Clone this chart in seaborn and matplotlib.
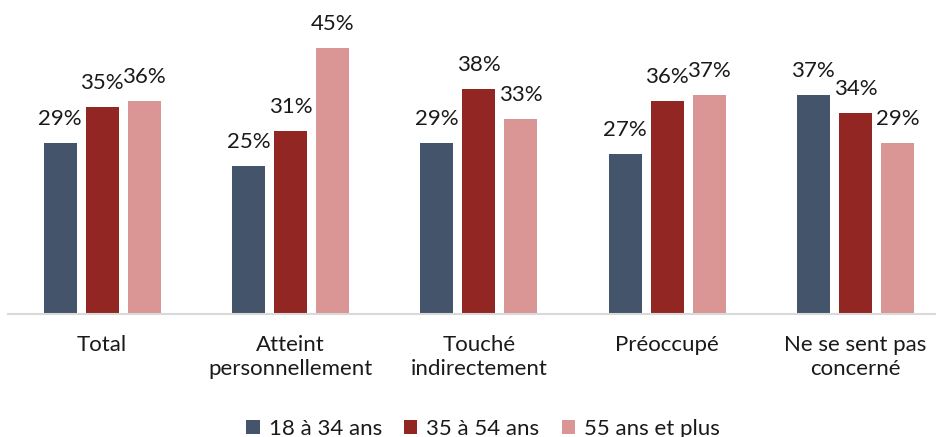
import pandas as pd
import matplotlib.pyplot as plt
import seaborn as sns

sns.set_style("white")
plt.rcParams['font.family'] = ['Lato', 'DejaVu Sans']

# data
categories = ["Total", "Atteint\npersonnellement", "Touché\nindirectement", "Préoccupé", "Ne se sent pas\nconcerné"]
age_groups = ["18 à 34 ans", "35 à 54 ans", "55 ans et plus"]
v_18_34 = [29, 25, 29, 27, 37]
v_35_54 = [35, 31, 38, 36, 34]
v_55_plus = [36, 45, 33, 37, 29]
colors = ["#44546A", "#922623", "#DA9694"]

rows = []
for grp, vals in zip(age_groups, [v_18_34, v_35_54, v_55_plus]):
    for cat, v in zip(categories, vals):
        rows.append({"cat": cat, "age": grp, "val": v})
df = pd.DataFrame(rows)

fig = plt.figure(figsize=(9.36, 4.37), dpi=100)
ax = fig.add_axes([8/936, 123/437, 928/936, 314/437])

sns.barplot(data=df, x="cat", y="val", hue="age", palette=colors,
            width=0.67, gap=0.215, saturation=1, linewidth=0, ax=ax, legend=True)

for cont in ax.containers:
    ax.bar_label(cont, labels=[f"{int(v)}%" for v in cont.datavalues],
                 padding=10, fontsize=16, color="#1a1a1a")

ax.set_ylim(0, 53.1)
ax.set_xlim(-0.5, 4.428)
ax.set_yticks([])
ax.set_xlabel("")
ax.set_ylabel("")
for s in ["top", "right", "left"]:
    ax.spines[s].set_visible(False)
ax.spines["bottom"].set_color("#d9d9d9")
ax.spines["bottom"].set_linewidth(1.5)
ax.tick_params(axis="x", length=0, pad=15, labelsize=16, labelcolor="#1a1a1a")
for t in ax.get_xticklabels():
    t.set_linespacing(1.25)

handles, labels = ax.get_legend_handles_labels()
ax.legend(handles, labels, loc="center", bbox_to_anchor=(0.512, -0.365),
          ncol=3, frameon=False, fontsize=16, handlelength=0.6, handleheight=0.6,
          columnspacing=1.0, handletextpad=0.4, labelcolor="#1a1a1a")

fig.savefig("out.png", dpi=100)
